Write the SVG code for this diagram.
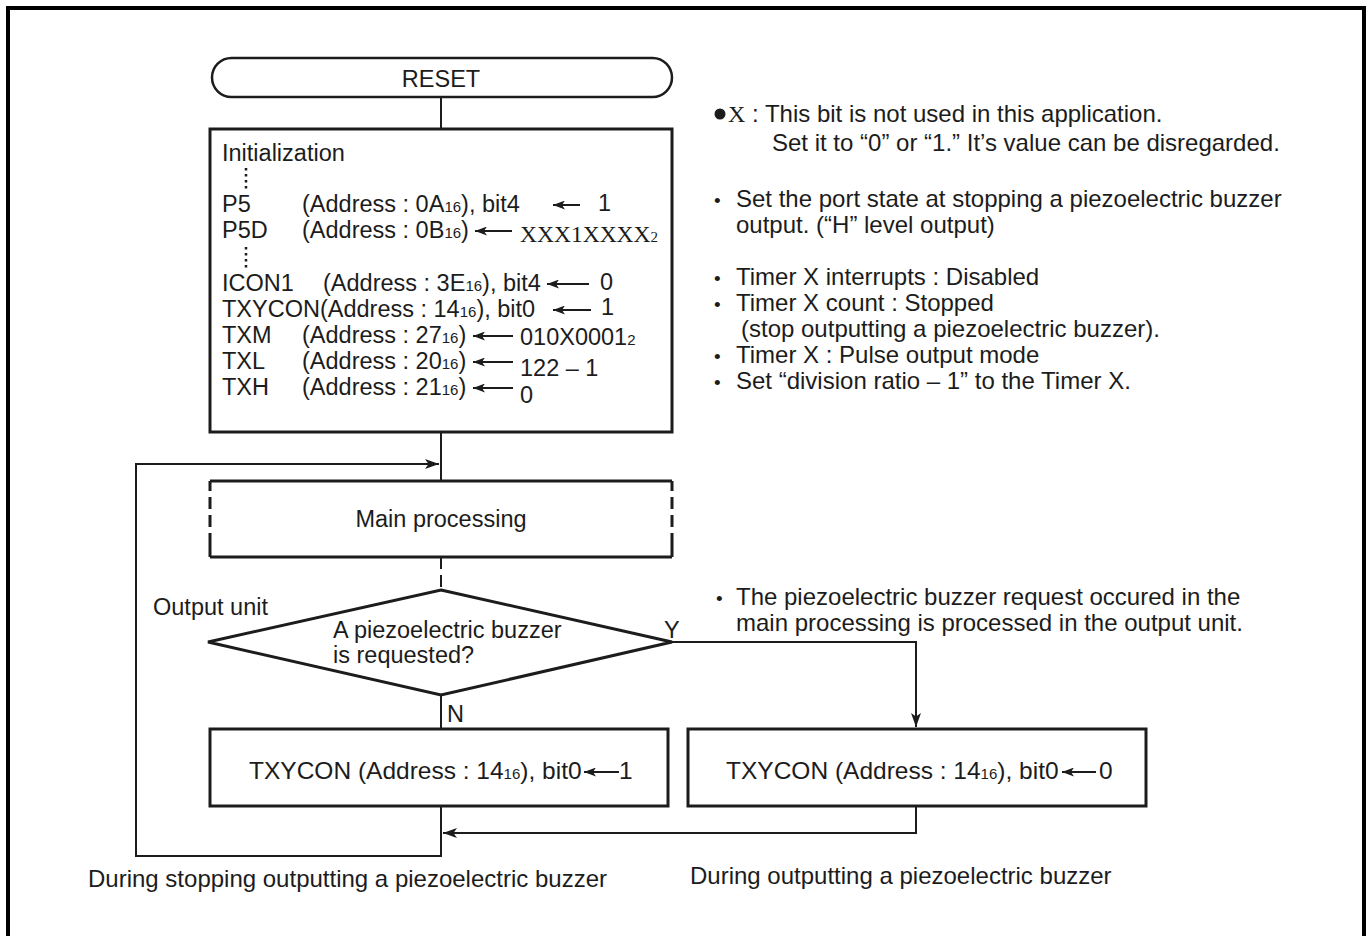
<svg xmlns="http://www.w3.org/2000/svg" width="1372" height="936" viewBox="0 0 1372 936">
<style>
text{font-family:"Liberation Sans",Arial,Helvetica,sans-serif;font-size:23.5px;fill:#1c1c1c}
.serif{font-family:"Liberation Serif","Times New Roman",serif}
.sub{font-size:15px}
.note{font-size:24px}
.bul{font-size:19px}
.bx{font-size:24.5px}
.box{fill:#fff;stroke:#1c1c1c;stroke-width:3}
.ln{fill:none;stroke:#1c1c1c;stroke-width:2}
.dots{fill:none;stroke:#1c1c1c;stroke-width:2.5;stroke-dasharray:2.5 3.5}
.tarr{fill:none;stroke:#1c1c1c;stroke-width:2}
</style>
<defs>
<marker id="ah" viewBox="0 0 14 10" refX="14" refY="5" markerWidth="14" markerHeight="10" markerUnits="userSpaceOnUse" orient="auto"><path d="M0,0 L14,5 L0,10 L3.5,5 Z" fill="#1c1c1c"/></marker>
<marker id="sa" viewBox="0 0 12 9" refX="12" refY="4.5" markerWidth="12" markerHeight="9" markerUnits="userSpaceOnUse" orient="auto"><path d="M0,0 L12,4.5 L0,9 L3,4.5 Z" fill="#1c1c1c"/></marker>
</defs>
<rect x="0" y="0" width="1372" height="936" fill="#fff"/>
<rect x="8" y="8" width="1356" height="950" fill="none" stroke="#000" stroke-width="4"/>

<g id="connectors">
<path class="ln" d="M441,97 L441,129"/>
<path class="ln" d="M441,432 L441,481"/>
<path class="ln" d="M441,557 L441,590" style="stroke-dasharray:12 6"/>
<path class="ln" d="M441,695 L441,729"/>
<path class="ln" d="M441,806 L441,856 L136,856 L136,464 L439,464" marker-end="url(#ah)"/>
<path class="ln" d="M672,642 L916,642 L916,727" marker-end="url(#ah)"/>
<path class="ln" d="M916,806 L916,833 L443,833" marker-end="url(#ah)"/>
</g>

<g id="reset">
<rect class="box" x="212" y="58" width="460" height="39" rx="19.5" style="stroke-width:2.5"/>
<text x="441" y="87" text-anchor="middle">RESET</text>
</g>

<g id="init">
<rect class="box" x="210" y="129" width="462" height="303"/>
<text x="222" y="161">Initialization</text>
<path class="dots" d="M246,168 L246,191"/>
<text x="222" y="212">P5</text>
<text x="302" y="212">(Address : 0A<tspan class="sub">16</tspan>), bit4</text>
<path class="tarr" d="M580,205 L553,205" marker-end="url(#sa)"/>
<text x="598" y="211">1</text>
<text x="222" y="238">P5D</text>
<text x="302" y="238">(Address : 0B<tspan class="sub">16</tspan>)</text>
<path class="tarr" d="M512,231 L475,231" marker-end="url(#sa)"/>
<text x="520" y="242" class="serif" style="font-size:23.5px">XXX1XXXX<tspan class="sub">2</tspan></text>
<path class="dots" d="M246,247 L246,271"/>
<text x="222" y="291">ICON1</text>
<text x="323" y="291">(Address : 3E<tspan class="sub">16</tspan>), bit4</text>
<path class="tarr" d="M589,284 L547,284" marker-end="url(#sa)"/>
<text x="600" y="290">0</text>
<text x="222" y="317">TXYCON(Address : 14<tspan class="sub">16</tspan>), bit0</text>
<path class="tarr" d="M591,310 L553,310" marker-end="url(#sa)"/>
<text x="601" y="315">1</text>
<text x="222" y="343">TXM</text>
<text x="302" y="343">(Address : 27<tspan class="sub">16</tspan>)</text>
<path class="tarr" d="M513,336 L473,336" marker-end="url(#sa)"/>
<text x="520" y="345">010X0001<tspan class="sub">2</tspan></text>
<text x="222" y="369">TXL</text>
<text x="302" y="369">(Address : 20<tspan class="sub">16</tspan>)</text>
<path class="tarr" d="M513,362 L473,362" marker-end="url(#sa)"/>
<text x="520" y="376">122 – 1</text>
<text x="222" y="395">TXH</text>
<text x="302" y="395">(Address : 21<tspan class="sub">16</tspan>)</text>
<path class="tarr" d="M513,388 L473,388" marker-end="url(#sa)"/>
<text x="520" y="403">0</text>
</g>

<g id="main-processing">
<rect x="210" y="481" width="462" height="76" fill="#fff"/>
<path class="box" d="M210,481 L672,481 M210,557 L672,557" style="fill:none"/>
<path class="box" d="M210,481 L210,557 M672,481 L672,557" style="fill:none;stroke-dasharray:10 6 12 6 12 6 30"/>
<text x="441" y="527" text-anchor="middle">Main processing</text>
</g>

<g id="decision">
<polygon class="box" points="441,590 672,642 441,695 208,642"/>
<text x="333" y="638">A piezoelectric buzzer</text>
<text x="333" y="663">is requested?</text>
<text x="153" y="615">Output unit</text>
<text x="664" y="638">Y</text>
<text x="447" y="722">N</text>
</g>

<g id="stop-box">
<rect class="box" x="210" y="729" width="458" height="77"/>
<text x="249" y="779" class="bx">TXYCON (Address : 14<tspan class="sub">16</tspan>), bit0</text>
<path class="tarr" d="M619,772 L584,772" marker-end="url(#sa)"/>
<text x="619" y="779" class="bx">1</text>
</g>

<g id="start-box">
<rect class="box" x="688" y="729" width="458" height="77"/>
<text x="726" y="779" class="bx">TXYCON (Address : 14<tspan class="sub">16</tspan>), bit0</text>
<path class="tarr" d="M1096,772 L1062,772" marker-end="url(#sa)"/>
<text x="1099" y="779" class="bx">0</text>
</g>

<g id="notes">
<circle cx="720" cy="114" r="5.5" fill="#1c1c1c"/>
<text x="728" y="122" class="note"><tspan class="serif">X</tspan> : This bit is not used in this application.</text>
<text x="772" y="151" class="note">Set it to “0” or “1.” It’s value can be disregarded.</text>
<text x="714" y="207" class="bul">•</text>
<text x="736" y="207" class="note">Set the port state at stopping a piezoelectric buzzer</text>
<text x="736" y="233" class="note">output. (“H” level output)</text>
<text x="714" y="285" class="bul">•</text>
<text x="736" y="285" class="note">Timer X interrupts : Disabled</text>
<text x="714" y="311" class="bul">•</text>
<text x="736" y="311" class="note">Timer X count : Stopped</text>
<text x="741" y="337" class="note">(stop outputting a piezoelectric buzzer).</text>
<text x="714" y="363" class="bul">•</text>
<text x="736" y="363" class="note">Timer X : Pulse output mode</text>
<text x="714" y="389" class="bul">•</text>
<text x="736" y="389" class="note">Set “division ratio – 1” to the Timer X.</text>
<text x="716" y="605" class="bul">•</text>
<text x="736" y="605" class="note">The piezoelectric buzzer request occured in the</text>
<text x="736" y="631" class="note">main processing is processed in the output unit.</text>
<text x="88" y="887" class="note">During stopping outputting a piezoelectric buzzer</text>
<text x="690" y="884" class="note">During outputting a piezoelectric buzzer</text>
</g>
</svg>
